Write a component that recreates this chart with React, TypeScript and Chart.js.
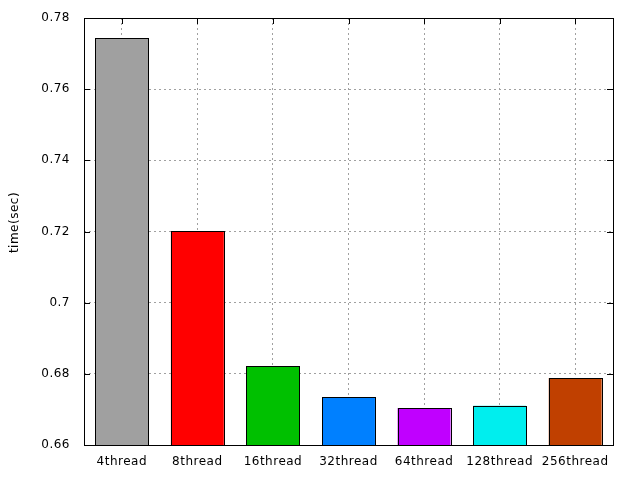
import React, { useEffect, useRef } from "react";
import { Chart, registerables } from "chart.js";

Chart.register(...registerables);

const categories = ["4thread", "8thread", "16thread", "32thread", "64thread", "128thread", "256thread"];
const times = [0.7744, 0.7201, 0.6822, 0.6735, 0.6704, 0.6710, 0.6788];
const barColors = ["#a0a0a0", "#ff0000", "#00c000", "#0080ff", "#c000ff", "#00eeee", "#c04000"];
const yMin = 0.66;
const yMax = 0.78;
const yStep = 0.02;
const yTitle = "time(sec)";

const FONT = "'DejaVu Sans', sans-serif";

const framePlugin = {
  id: "gnuframe",
  beforeDraw(chart: any) {
    try {
      (chart.ctx as any).letterSpacing = "0.5px";
    } catch (e) {}
  },
  beforeDatasetsDraw(chart: any) {
    const { ctx, chartArea, scales } = chart;
    const { left, right, top, bottom } = chartArea;
    ctx.save();
    ctx.strokeStyle = "#000";
    ctx.lineWidth = 1;
    ctx.beginPath();
    const tl = 6;
    scales.y.ticks.forEach((t: any) => {
      const y = Math.round(scales.y.getPixelForValue(t.value)) + 0.5;
      ctx.moveTo(left, y);
      ctx.lineTo(left + tl, y);
      ctx.moveTo(right, y);
      ctx.lineTo(right - tl, y);
    });
    categories.forEach((_, i) => {
      const x = Math.round(scales.x.getPixelForValue(i)) + 0.5;
      ctx.moveTo(x, top);
      ctx.lineTo(x, top + tl);
      ctx.moveTo(x, bottom);
      ctx.lineTo(x, bottom - tl);
    });
    ctx.stroke();
    ctx.restore();
  },
  afterDatasetsDraw(chart: any) {
    const { ctx, chartArea } = chart;
    const { left, right, top, bottom } = chartArea;
    ctx.save();
    ctx.strokeStyle = "#000";
    ctx.lineWidth = 1;
    const meta = chart.getDatasetMeta(0);
    meta.data.forEach((bar: any) => {
      const x0 = Math.round(bar.x - bar.width / 2);
      const x1 = Math.round(bar.x + bar.width / 2);
      const y0 = Math.round(bar.y);
      const y1 = Math.round(Math.min(bar.base, bottom));
      ctx.strokeRect(x0 + 0.5, y0 + 0.5, x1 - x0, y1 - y0);
    });
    ctx.strokeRect(Math.round(left) + 0.5, Math.round(top) + 0.5, Math.round(right - left), Math.round(bottom - top));
    // y axis title
    ctx.fillStyle = "#000";
    ctx.font = `12px ${FONT}`;
    ctx.translate(15, (top + bottom) / 2 - 9);
    ctx.rotate(-Math.PI / 2);
    ctx.textAlign = "center";
    ctx.textBaseline = "middle";
    ctx.fillText(yTitle, 0, 0);
    ctx.restore();
  },
};

export default function App() {
  const ref = useRef<HTMLCanvasElement>(null);
  useEffect(() => {
    document.body.style.margin = "0";
    const chart = new Chart(ref.current!, {
      type: "bar",
      data: {
        labels: categories,
        datasets: [
          {
            data: times,
            backgroundColor: barColors,
            borderWidth: 0,
            categoryPercentage: 1,
            barPercentage: 0.7,
          },
        ],
      },
      options: {
        animation: false,
        responsive: false,
        maintainAspectRatio: false,
        layout: { padding: { left: 0, right: 27, top: 18, bottom: 0 } },
        plugins: { legend: { display: false }, tooltip: { enabled: false } },
        scales: {
          x: {
            offset: true,
            grid: {
              offset: false,
              color: "#a0a0a0",
              lineWidth: 1,
              drawTicks: false,
            },
            border: { display: false, dash: [2, 3] },
            ticks: {
              color: "#000",
              font: { family: FONT, size: 12 },
              padding: 10,
              maxRotation: 0,
              autoSkip: false,
            },
            afterFit(scale: any) {
              scale.height = 35;
            },
          },
          y: {
            min: yMin,
            max: yMax,
            grid: { color: "#a0a0a0", lineWidth: 1, drawTicks: false },
            border: { display: false, dash: [2, 3] },
            ticks: {
              stepSize: yStep,
              color: "#000",
              font: { family: FONT, size: 12 },
              padding: 14,
              callback: (v: any) => parseFloat(Number(v).toFixed(2)).toString(),
            },
            afterFit(scale: any) {
              scale.width = 84;
              scale.paddingTop = 8;
              scale.paddingBottom = 8;
            },
          },
        },
      },
      plugins: [framePlugin],
    });
    return () => chart.destroy();
  }, []);
  return <canvas ref={ref} width={640} height={480} style={{ display: "block" }} />;
}
